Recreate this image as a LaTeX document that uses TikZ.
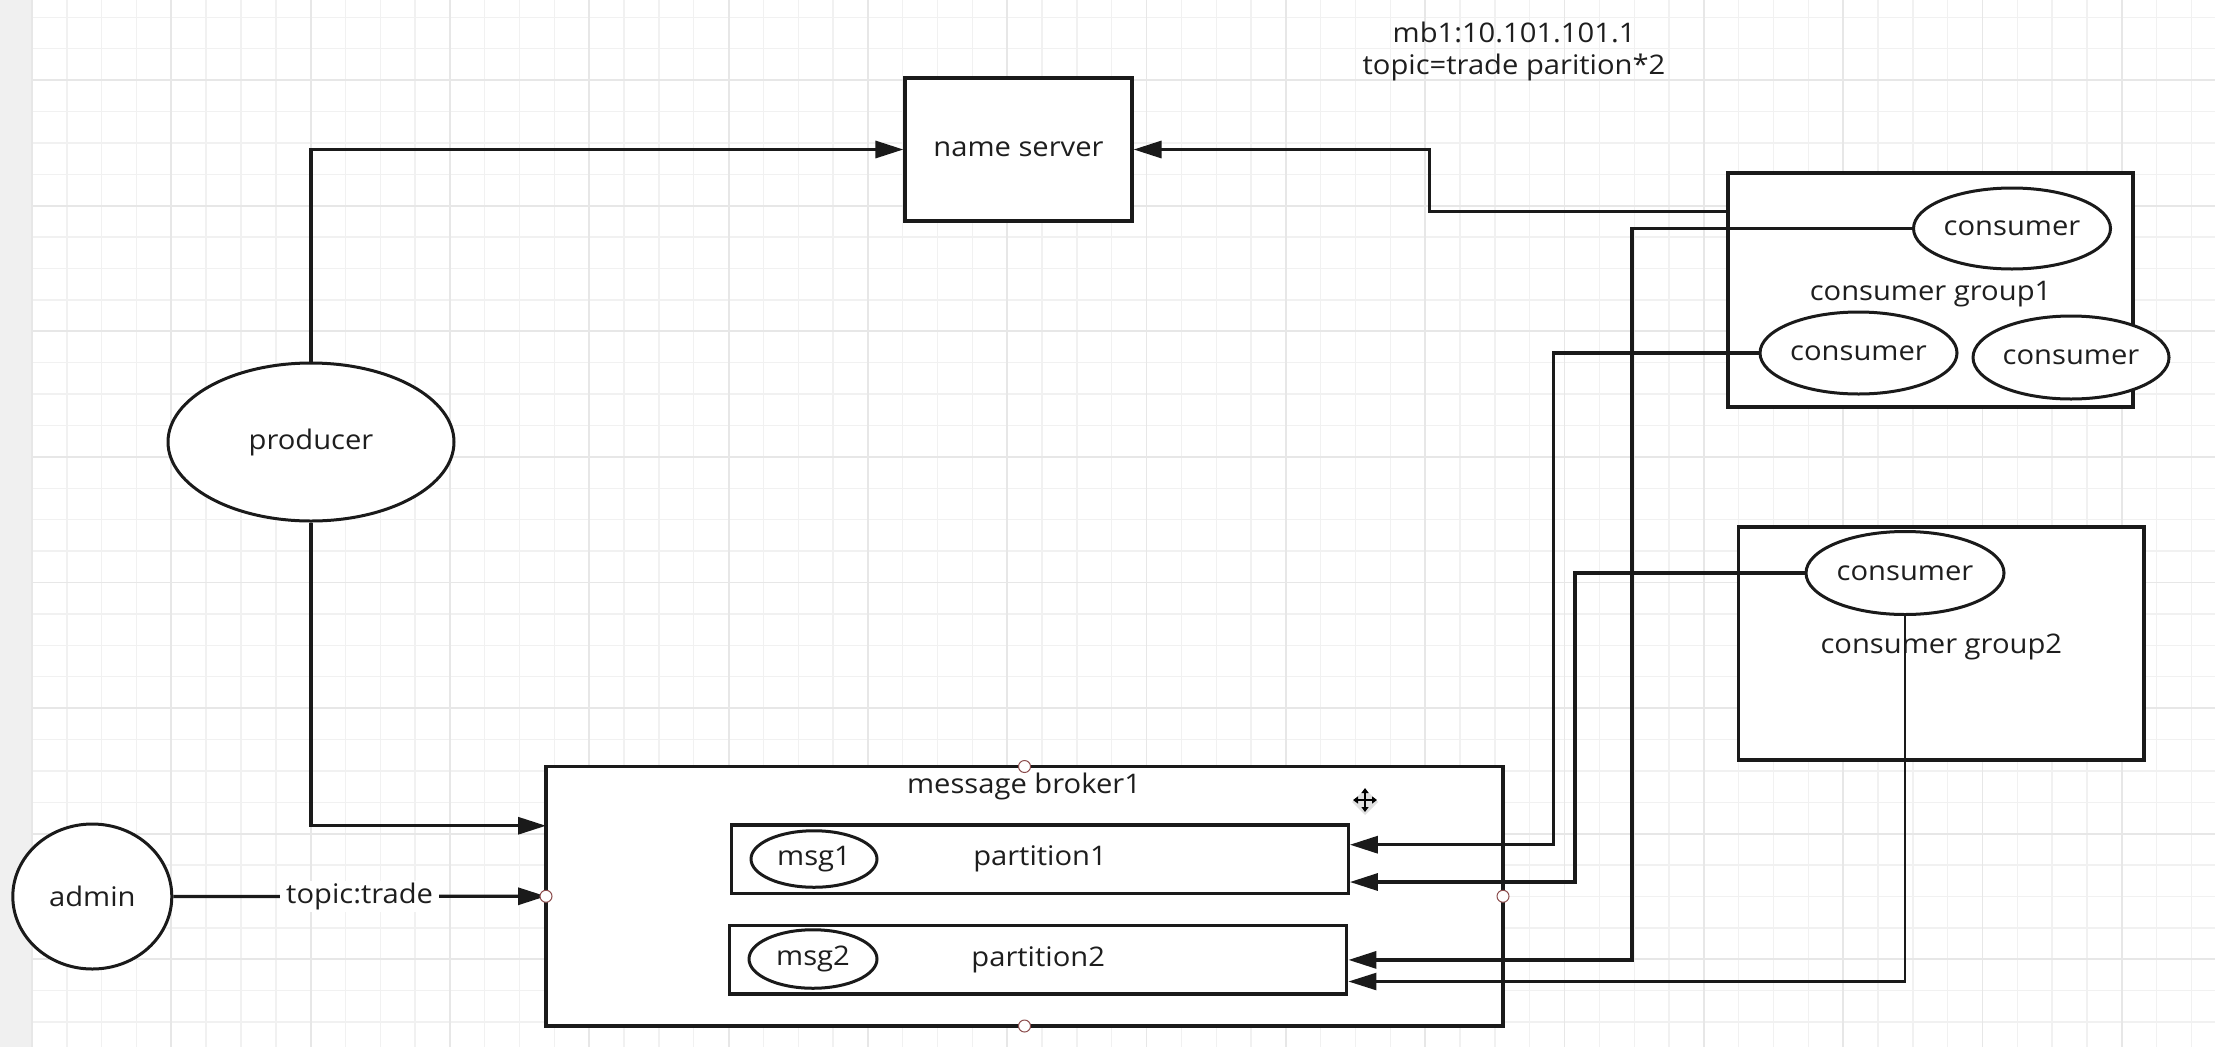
\documentclass[tikz,border=0pt]{standalone}
\usepackage{fontspec}
\setmainfont{Open Sans}[FakeStretch=1.08]
\usetikzlibrary{arrows.meta,shapes.geometric}
\definecolor{lc}{HTML}{1A1A1A}
\definecolor{tc}{HTML}{1E1E1E}
\definecolor{gmin}{HTML}{F1F1F1}
\definecolor{gmaj}{HTML}{E7E7E7}
\definecolor{strip}{HTML}{F0F0F0}
\definecolor{cpc}{HTML}{8A4B4B}
\begin{document}
\begin{tikzpicture}[x=1pt,y=-1pt,
  every node/.style={font=\fontsize{27}{31.5}\selectfont, text=tc},
  box/.style={draw=lc, line width=3.2pt, fill=white, inner sep=0pt},
  ell/.style={ellipse, draw=lc, line width=3pt, fill=white, inner sep=0pt},
  arr/.style={draw=lc, line width=3.2pt, -{Triangle[length=28pt,width=17pt]}},
  cpt/.style={circle, draw=cpc, line width=1pt, fill=white, minimum size=12pt, inner sep=0pt},
  lbl/.style={inner sep=0pt},
  gminor/.style={draw=gmin, line width=1.4pt},
  gmajor/.style={draw=gmaj, line width=1.8pt}
]
\useasboundingbox (0,0) rectangle (2215,1047);
% background grid
\fill[white] (0,0) rectangle (2215,1047);
\fill[strip] (0,0) rectangle (32,1047);
\foreach \i in {1,...,62} \draw[gminor] ({32+34.83*\i},0) -- ({32+34.83*\i},1047);
\foreach \j in {0,...,33} \draw[gminor] (32,{17.2+31.4*\j}) -- (2215,{17.2+31.4*\j});
\foreach \i in {0,...,15} \draw[gmajor] ({32+139.32*\i},0) -- ({32+139.32*\i},1047);
\foreach \j in {0,...,7} \draw[gmajor] (32,{80+125.6*\j}) -- (2215,{80+125.6*\j});

% title
\node[lbl, anchor=base] (t1) at (1514,42.7) {mb1:10.101.101.1};
\node[lbl, anchor=base] (t2) at (1514,74) {topic=trade parition*2};

% nodes
\node[box, minimum width=227pt, minimum height=143pt] (ns) at (1018.5,149.5) {name server};
\node[ell, minimum width=286pt, minimum height=158pt] (producer) at (311,442) {producer};
\node[ell, minimum width=159pt, minimum height=145pt] (admin) at (92.3,896.5) {admin};
\node[box, outer sep=0pt, minimum width=957pt, minimum height=259.5pt] (broker) at (1024.5,896.25) {};
\node[lbl, anchor=base] (brokerlbl) at (1024,793) {message broker1};
\node[box, minimum width=616.5pt, minimum height=68.6pt] (p1) at (1040,859.3) {partition1};
\node[box, minimum width=617.2pt, minimum height=68.3pt] (p2) at (1038.2,959.9) {partition2};
\node[ell, minimum width=126pt, minimum height=56.5pt] (m1) at (814,859) {msg1};
\node[ell, minimum width=128pt, minimum height=58.5pt] (m2) at (813,959) {msg2};

\node[box, minimum width=405pt, minimum height=234pt] (g1) at (1930.5,290) {};
\node[lbl] (g1lbl) at (1930.5,294) {consumer group1};
\node[ell, minimum width=197pt, minimum height=81pt] (c1) at (2012,228.5) {consumer};
\node[ell, minimum width=197pt, minimum height=82pt] (c2) at (1858.5,353) {consumer};
\node[ell, minimum width=196pt, minimum height=83pt] (c3) at (2071,357.5) {consumer};

\node[box, minimum width=405.4pt, minimum height=233pt] (g2) at (1941.3,643.5) {};
\node[lbl] (g2lbl) at (1941.3,647) {consumer group2};
\node[ell, minimum width=198pt, minimum height=83pt] (c4) at (1905,573) {consumer};

% helper coordinates
\coordinate (p1a) at ([yshift=14.6pt]p1.east);
\coordinate (p1b) at ([yshift=-22.7pt]p1.east);
\coordinate (p2b) at ([yshift=-21.6pt]p2.east);
\coordinate (v1) at (1632,0);
\coordinate (v2) at (1553.7,0);
\coordinate (v3) at (1575,0);

% connectors
\draw[arr] (producer.north) |- (ns.west);
\draw[arr] (producer.south) |- ([yshift=70.5pt]broker.west);
\draw[arr] (admin.east) -- node[fill=white, inner xsep=6pt, inner ysep=2pt] (tl) {topic:trade} (broker.west);
\draw[arr] ([yshift=78.3pt]g1.west) -- ++(-297.3pt,0pt) |- (ns.east);
\draw[arr] (c1.west) -| (v1 |- p2.east) -- (p2.east);
\draw[arr] (c2.west) -| (v2 |- p1a) -- (p1a);
\draw[arr] (c4.west) -| (v3 |- p1b) -- (p1b);
\draw[arr, line width=2.5pt] (c4.south) |- (p2b);

% connection points on broker
\node[cpt] (cpn) at (broker.north) {};
\node[cpt] (cpw) at (broker.west) {};
\node[cpt] (cps) at (broker.south) {};
\node[cpt] (cpe) at (broker.east) {};

% move cursor
\fill[black!12] (1365,789) -- (1378,802) -- (1365,815) -- (1352,802) -- cycle;
\draw[line width=1.5pt, {Triangle[length=5pt,width=7pt]}-{Triangle[length=5pt,width=7pt]}] (1353,800) -- (1377,800);
\draw[line width=1.5pt, {Triangle[length=5pt,width=7pt]}-{Triangle[length=5pt,width=7pt]}] (1365,788) -- (1365,812);
\end{tikzpicture}
\end{document}
